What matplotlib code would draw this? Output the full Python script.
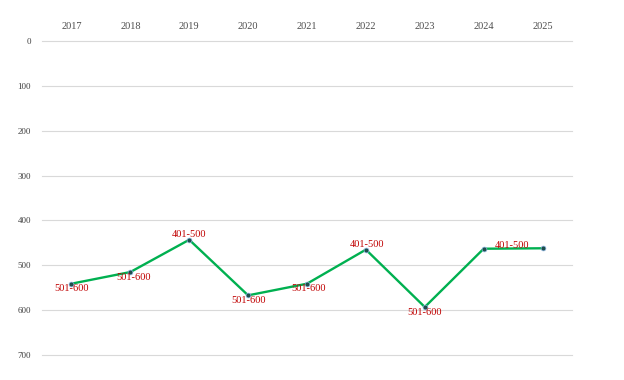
import matplotlib.pyplot as plt
import numpy as np

plt.rcParams['font.family'] = ['Liberation Serif', 'DejaVu Serif']

# data (rank position, axis inverted)
years = ['2017', '2018', '2019', '2020', '2021', '2022', '2023', '2024', '2025']
rank_pos = [541, 515, 443, 567, 541, 465, 593, 463, 462]
rank_band = ['501-600', '501-600', '401-500', '501-600', '501-600',
             '401-500', '501-600', '', '401-500']
y_ticks = [0, 100, 200, 300, 400, 500, 600, 700]

# label offsets in points (dx, dy), mimicking the original placement
label_offsets = [(0, -0.5), (2, -0.5), (0, 0.5), (0, -0.5), (1, -0.5),
                 (1, 0.5), (0, -0.5), (0, 0), (-22, -1)]

fig = plt.figure(figsize=(6.24, 3.8), dpi=100)
ax = fig.add_axes([0.0673, 0.0658, 0.8494, 0.826])

x = np.arange(len(years))
ax.plot(x, rank_pos, color='#00B050', linewidth=1.7, zorder=2)
ax.scatter(x, rank_pos, s=12, color='#1F4E4A', edgecolor='#8DB4E2',
           linewidth=0.5, zorder=3)

for xi, yi, lab, (dx, dy) in zip(x, rank_pos, rank_band, label_offsets):
    if not lab:
        continue
    ax.annotate(lab, (xi, yi), xytext=(dx, dy), textcoords='offset points',
                ha='center', va='bottom' if dy > 0 or dx < -5 else 'top',
                color='#C00000', fontsize=7.5)

ax.set_xlim(-0.5, len(years) - 0.5)
ax.set_ylim(700, 0)
ax.set_yticks(y_ticks)
ax.set_yticklabels([str(v) for v in y_ticks], fontsize=6.5, color='#404040')
ax.set_xticks(x)
ax.set_xticklabels(years, fontsize=7.5, color='#4D4D4D')
ax.xaxis.tick_top()
ax.tick_params(axis='x', length=0, pad=7)
ax.tick_params(axis='y', length=0, pad=8)
ax.grid(axis='y', color='#D9D9D9', linewidth=0.8)
for gl in ax.get_ygridlines():
    gl.set_clip_on(False)
ax.set_axisbelow(True)
for s in ax.spines.values():
    s.set_visible(False)

plt.savefig('out.png', dpi=100)
